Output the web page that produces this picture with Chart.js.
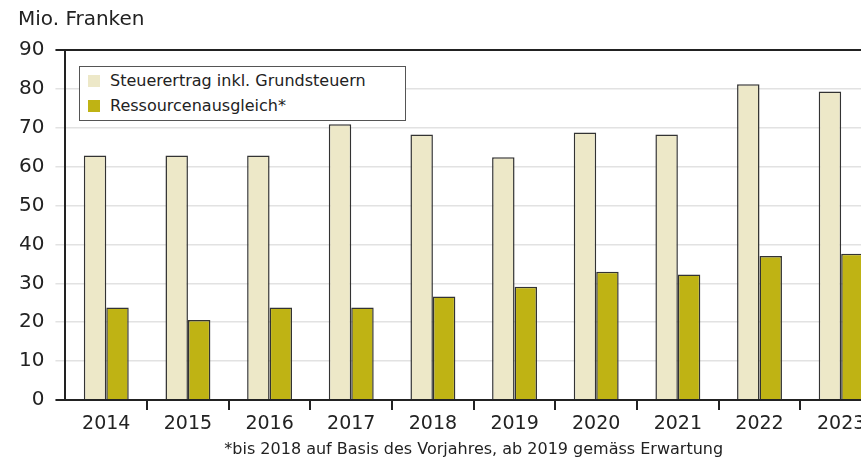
<!DOCTYPE html>
<html>
<head>
<meta charset="utf-8">
<script src="https://cdn.jsdelivr.net/npm/chart.js@4/dist/chart.umd.min.js"></script>
<style>
  html, body { margin: 0; padding: 0; background: #fff; overflow: hidden; }
  #wrap { position: relative; width: 884px; height: 459px; }
  #legend {
    position: absolute; left: 79px; top: 66px; width: 325px; height: 53px;
    border: 1px solid #555; background: #fff;
    font-family: "DejaVu Sans", sans-serif; font-size: 16px; color: #222;
  }
  #legend .item { position: absolute; left: 8px; height: 20px; line-height: 20px; }
  #legend .swatch { position: absolute; left: 0; top: 4px; width: 12px; height: 12px; }
  #legend .label { position: absolute; left: 22px; white-space: nowrap; }
</style>
</head>
<body>
<div id="wrap">
  <canvas id="chart" width="884" height="459"></canvas>
  <div id="legend"></div>
</div>
<script>
const years = ["2014", "2015", "2016", "2017", "2018", "2019", "2020", "2021", "2022", "2023"];
const steuerertrag = [62.9, 62.9, 62.9, 70.9, 68.3, 62.4, 68.8, 68.3, 81.2, 79.3];
const ressourcenausgleich = [23.8, 20.6, 23.8, 23.8, 26.6, 29.1, 33.0, 32.3, 37.0, 37.6];
const seriesLabels = ["Steuerertrag inkl. Grundsteuern", "Ressourcenausgleich*"];
const seriesColors = ["#ede8c8", "#bfb314"];
const footnote = "*bis 2018 auf Basis des Vorjahres, ab 2019 gemäss Erwartung";

const fontFamily = "'DejaVu Sans', sans-serif";
const textColor = "#222";

const ctx = document.getElementById("chart");

const chart = new Chart(ctx, {
  type: "bar",
  data: {
    labels: years,
    datasets: [
      {
        label: seriesLabels[0],
        data: steuerertrag,
        backgroundColor: seriesColors[0],
        borderColor: "#333",
        borderWidth: 1.5,
      },
      {
        label: seriesLabels[1],
        data: ressourcenausgleich,
        backgroundColor: seriesColors[1],
        borderColor: "#333",
        borderWidth: 1.5,
      },
    ],
  },
  options: {
    responsive: false,
    animation: false,
    layout: { padding: { left: 8, right: 2, top: 0, bottom: 0 } },
    datasets: {
      bar: { barPercentage: 1, categoryPercentage: 0.55 },
    },
    plugins: {
      legend: { display: false },
      tooltip: { enabled: false },
      title: {
        display: true,
        text: "Mio. Franken",
        align: "start",
        color: textColor,
        font: { family: fontFamily, size: 20, weight: "normal" },
        padding: { top: 8, bottom: 18, left: 10 },
      },
    },
    scales: {
      x: {
        grid: {
          offset: true,
          drawOnChartArea: false,
          drawTicks: true,
          tickLength: 10,
          color: (c) => (c.index === 0 ? "rgba(0,0,0,0)" : "#222"),
          lineWidth: 2,
        },
        border: { display: true, color: "#222", width: 2 },
        ticks: {
          color: textColor,
          padding: 3,
          font: { family: fontFamily, size: 19 },
        },
        title: {
          display: true,
          text: footnote,
          color: textColor,
          font: { family: fontFamily, size: 16 },
          padding: { top: 1, bottom: 0 },
        },
      },
      y: {
        min: 0,
        max: 90,
        ticks: {
          stepSize: 10,
          color: textColor,
          padding: 11,
          font: { family: fontFamily, size: 20 },
        },
        grid: {
          tickLength: 10,
          color: (c) =>
            c.tick && (c.tick.value === 0 || c.tick.value === 90) ? "#222" : "#e2e2e2",
          lineWidth: (c) =>
            c.tick && (c.tick.value === 0 || c.tick.value === 90) ? 2 : 1.5,
        },
        border: { display: true, color: "#222", width: 2 },
      },
    },
  },
  plugins: [
    {
      // keep the title at its old place after narrowing the left padding
      id: "titleShift",
      beforeDraw(c) {
        if (c.titleBlock) c.titleBlock.left = 18;
      },
    },
  ],
});

// legend drawn as html box inside the plot area
const legendBox = document.getElementById("legend");
chart.data.datasets.forEach((ds, i) => {
  const item = document.createElement("div");
  item.className = "item";
  item.style.top = 4 + i * 25 + "px";
  item.innerHTML =
    '<span class="swatch" style="background:' + ds.backgroundColor + '"></span>' +
    '<span class="label">' + ds.label + "</span>";
  legendBox.appendChild(item);
});
</script>
</body>
</html>
